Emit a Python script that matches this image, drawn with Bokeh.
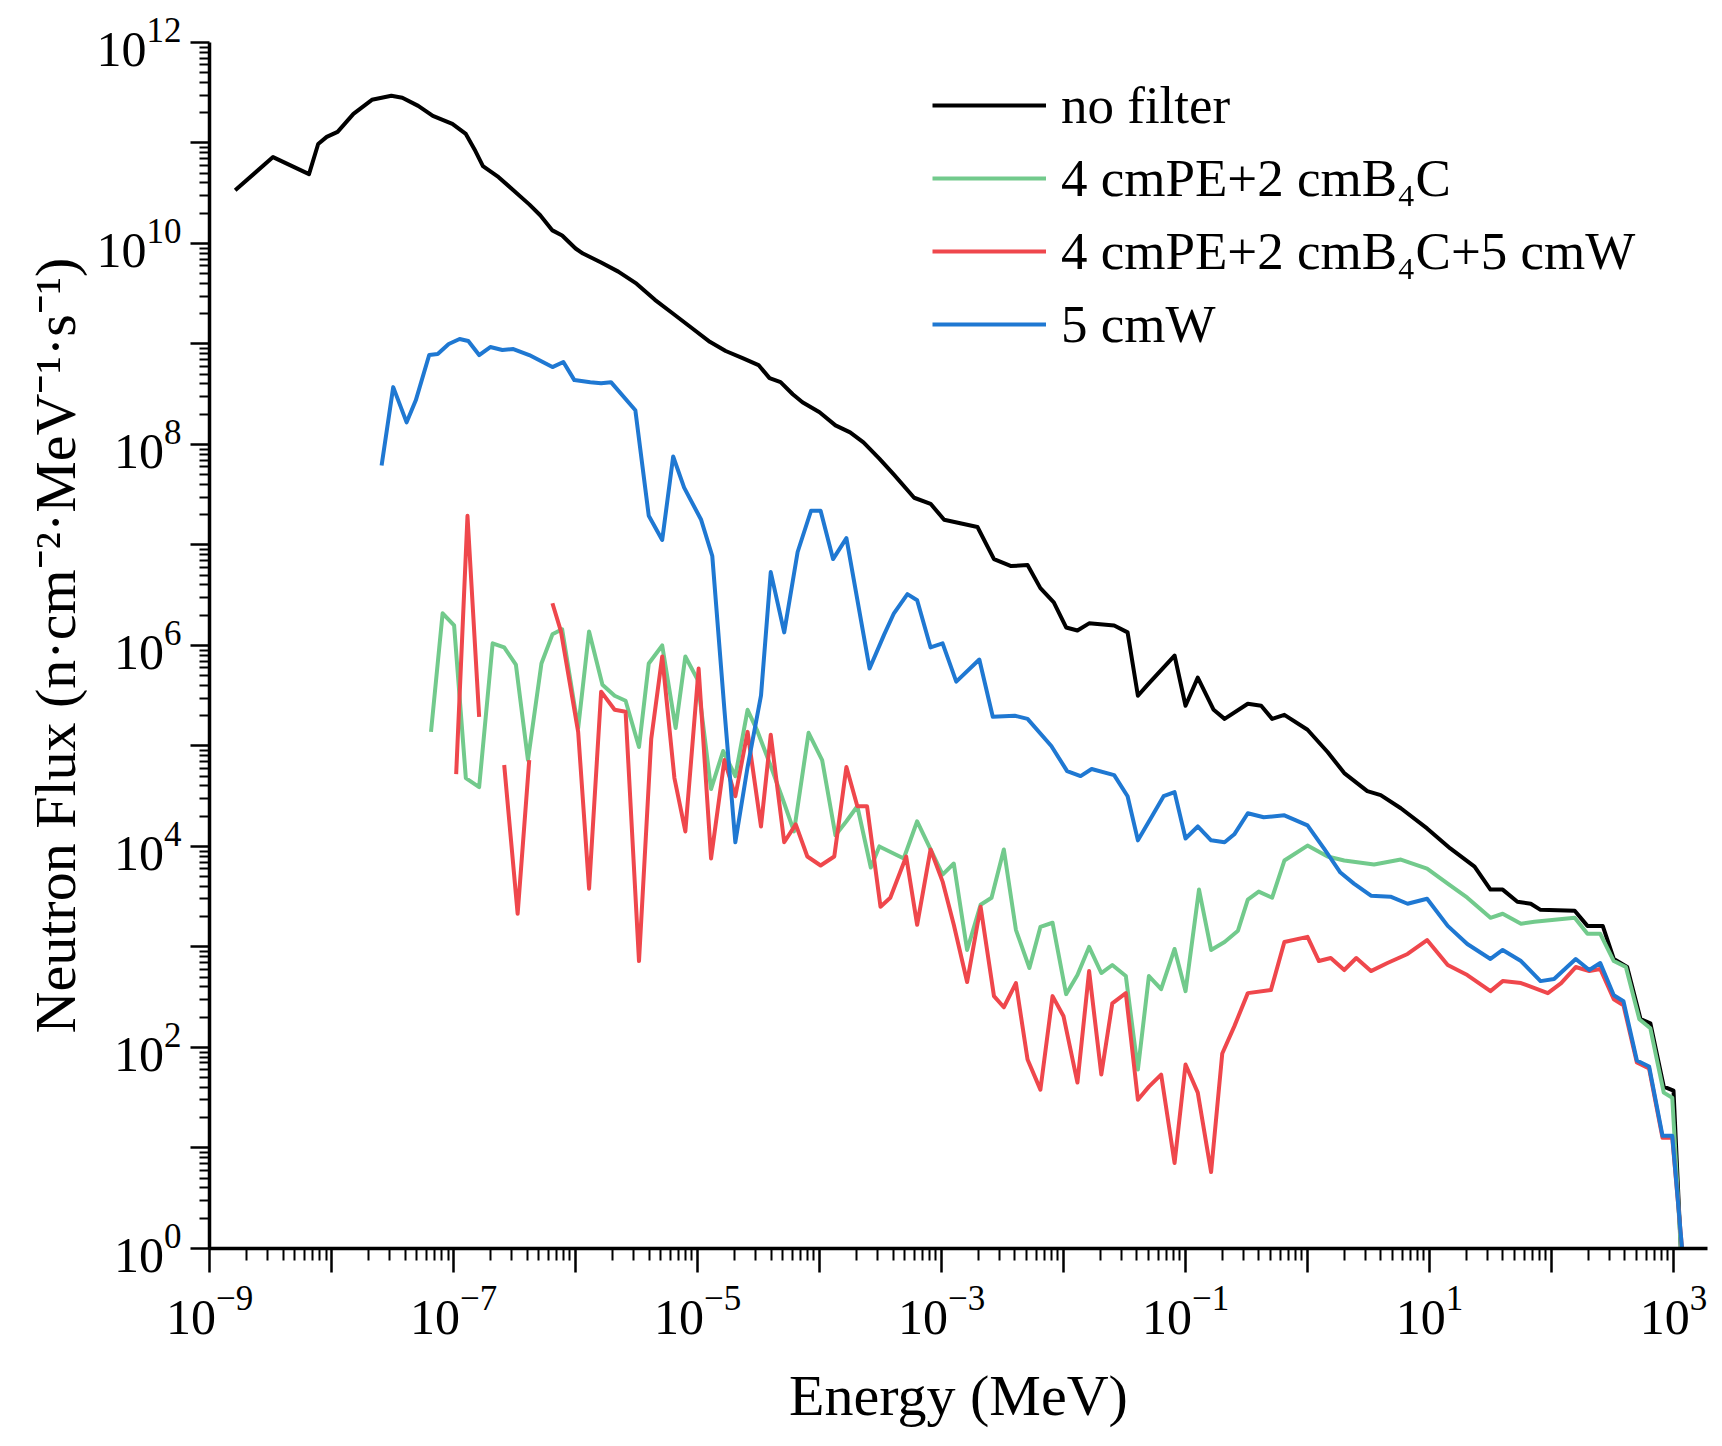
from bokeh.plotting import figure
from bokeh.models import FixedTicker, LogTickFormatter, Range1d, Legend, LegendItem
from bokeh.embed import file_html
from bokeh.resources import INLINE

NAN = float("nan")

# ---- data (Energy in MeV, flux in n cm^-2 MeV^-1 s^-1) ----
energy_nofilter = [1.62e-9, 3.31e-9, 6.53e-9, 7.76e-9, 9.12e-9, 1.12e-8, 1.51e-8, 2.14e-8, 3.09e-8, 3.80e-8,
                   5.13e-8, 6.76e-8, 9.77e-8, 1.26e-7, 1.51e-7, 1.74e-7, 2.34e-7, 3.09e-7, 4.17e-7, 5.13e-7,
                   6.46e-7, 7.76e-7, 1.00e-6, 1.15e-6, 1.62e-6, 2.24e-6, 3.16e-6, 4.47e-6, 6.31e-6, 8.91e-6,
                   1.26e-5, 1.70e-5, 2.34e-5, 3.16e-5, 3.89e-5, 4.79e-5, 6.03e-5, 7.24e-5, 1.00e-4, 1.35e-4,
                   1.78e-4, 2.29e-4, 3.09e-4, 4.07e-4, 5.96e-4, 8.13e-4, 1.05e-3, 1.97e-3, 2.69e-3, 3.72e-3,
                   5.07e-3, 6.46e-3, 8.32e-3, 1.05e-2, 1.30e-2, 1.62e-2, 2.60e-2, 3.35e-2, 4.07e-2, 4.90e-2,
                   8.13e-2, 1.00e-1, 1.26e-1, 1.70e-1, 2.09e-1, 3.24e-1, 4.17e-1, 5.13e-1, 6.46e-1, 1.0,
                   1.46, 2.0, 3.09, 3.98, 5.82, 9.55, 14.8, 23.4, 31.6, 39.8,
                   52.5, 67.6, 81.3, 155, 197, 263, 324, 417, 537, 646,
                   832, 1000, 1148]
flux_nofilter = [3.39e10, 7.24e10, 4.90e10, 9.77e10, 1.15e11, 1.29e11, 1.95e11, 2.69e11, 2.95e11, 2.82e11,
                 2.34e11, 1.86e11, 1.55e11, 1.23e11, 8.32e10, 5.89e10, 4.57e10, 3.39e10, 2.45e10, 1.91e10,
                 1.35e10, 1.20e10, 8.91e9, 7.94e9, 6.46e9, 5.25e9, 3.98e9, 2.75e9, 2.00e9, 1.45e9,
                 1.05e9, 8.51e8, 7.24e8, 6.17e8, 4.57e8, 4.17e8, 3.16e8, 2.63e8, 2.09e8, 1.55e8,
                 1.32e8, 1.05e8, 7.24e7, 5.01e7, 2.95e7, 2.57e7, 1.78e7, 1.51e7, 7.24e6, 6.17e6,
                 6.31e6, 3.72e6, 2.69e6, 1.51e6, 1.41e6, 1.66e6, 1.58e6, 1.35e6, 3.16e5, 4.07e5,
                 7.94e5, 2.51e5, 4.79e5, 2.29e5, 1.86e5, 2.63e5, 2.51e5, 1.86e5, 2.04e5, 1.45e5,
                 8.71e4, 5.37e4, 3.55e4, 3.24e4, 2.40e4, 1.51e4, 9.55e3, 6.31e3, 3.72e3, 3.72e3,
                 2.82e3, 2.69e3, 2.34e3, 2.29e3, 1.62e3, 1.62e3, 759, 631, 191, 174,
                 40.7, 37.2, 1.0]

energy_pe_b4c = [6.53e-8, 8.13e-8, 1.01e-7, 1.26e-7, 1.62e-7, 2.09e-7, 2.60e-7, 3.24e-7, 4.07e-7, 5.25e-7,
                 6.46e-7, 7.76e-7, 1.05e-6, 1.29e-6, 1.66e-6, 2.09e-6, 2.57e-6, 3.31e-6, 3.98e-6, 5.13e-6,
                 6.61e-6, 7.94e-6, 1.00e-5, 1.29e-5, 1.62e-5, 2.04e-5, 2.57e-5, 3.09e-5, 3.98e-5, 5.13e-5,
                 6.17e-5, 8.13e-5, 1.05e-4, 1.35e-4, 1.66e-4, 2.04e-4, 2.63e-4, 3.09e-4, 4.90e-4, 6.31e-4,
                 8.13e-4, 1.02e-3, 1.26e-3, 1.62e-3, 2.09e-3, 2.57e-3, 3.24e-3, 4.07e-3, 5.25e-3, 6.46e-3,
                 8.13e-3, 1.05e-2, 1.30e-2, 1.62e-2, 2.04e-2, 2.51e-2, 3.24e-2, 4.07e-2, 5.01e-2, 6.31e-2,
                 8.13e-2, 1.00e-1, 1.29e-1, 1.62e-1, 2.09e-1, 2.69e-1, 3.24e-1, 3.98e-1, 5.13e-1, 6.46e-1,
                 1.0, 1.46, 2.0, 3.51, 5.82, 9.55, 14.1, 20.4, 31.6, 39.8,
                 56.2, 72.4, 155, 197, 251, 324, 407, 525, 646, 832,
                 977, 1148]
flux_pe_b4c = [1.38e5, 2.09e6, 1.58e6, 4.79e4, 3.89e4, 1.05e6, 9.55e5, 6.46e5, 7.24e4, 6.61e5,
               1.29e6, 1.45e6, 1.51e5, 1.38e6, 4.07e5, 3.16e5, 2.82e5, 9.77e4, 6.61e5, 1.00e6,
               1.51e5, 7.76e5, 4.57e5, 3.72e4, 8.91e4, 5.01e4, 2.29e5, 1.41e5, 6.31e4, 2.69e4,
               1.41e4, 1.35e5, 7.24e4, 1.29e4, 1.78e4, 2.51e4, 6.17e3, 1.00e4, 7.59e3, 1.78e4,
               9.33e3, 5.25e3, 6.76e3, 933, 2.63e3, 3.09e3, 9.33e3, 1.48e3, 617, 1.58e3,
               1.74e3, 339, 525, 1.00e3, 550, 661, 513, 60.3, 513, 380,
               955, 363, 3.72e3, 933, 1.12e3, 1.45e3, 2.95e3, 3.55e3, 3.09e3, 7.24e3,
               1.02e4, 7.94e3, 7.24e3, 6.61e3, 7.41e3, 6.03e3, 4.27e3, 3.09e3, 1.95e3, 2.14e3,
               1.70e3, 1.78e3, 1.95e3, 1.35e3, 1.35e3, 724, 631, 191, 155, 35.5,
               31.6, 1.0]

energy_pe_b4c_w = [1.05e-7, 1.30e-7, 1.62e-7, NAN, 2.60e-7, 3.35e-7, 4.17e-7, NAN, 6.46e-7, 7.59e-7,
                   1.05e-6, 1.29e-6, 1.62e-6, 2.09e-6, 2.57e-6, 3.31e-6, 4.17e-6, 5.13e-6, 6.46e-6, 7.94e-6,
                   1.02e-5, 1.29e-5, 1.66e-5, 2.04e-5, 2.57e-5, 3.31e-5, 3.98e-5, 5.13e-5, 6.38e-5, 7.94e-5,
                   1.02e-4, 1.32e-4, 1.66e-4, 2.04e-4, 2.45e-4, 3.16e-4, 3.80e-4, 5.13e-4, 6.31e-4, 8.13e-4,
                   1.02e-3, 1.26e-3, 1.62e-3, 2.09e-3, 2.69e-3, 3.24e-3, 4.07e-3, 5.07e-3, 6.46e-3, 8.13e-3,
                   1.00e-2, 1.30e-2, 1.62e-2, 2.04e-2, 2.51e-2, 3.24e-2, 4.07e-2, 5.01e-2, 6.31e-2, 8.13e-2,
                   1.00e-1, 1.26e-1, 1.62e-1, 2.00e-1, 2.51e-1, 3.24e-1, 5.01e-1, 6.46e-1, 1.0, 1.24,
                   1.55, 2.0, 2.51, 3.31, 4.52, 6.61, 9.55, 14.1, 20.4, 31.6,
                   39.8, 56.2, 93.3, 120, 158, 204, 251, 324, 389, 501,
                   631, 813, 977, 1175]
flux_pe_b4c_w = [5.25e4, 1.95e7, 1.95e5, NAN, 6.46e4, 2.14e3, 7.24e4, NAN, 2.63e6, 1.38e6,
                 1.38e5, 3.80e3, 3.47e5, 2.29e5, 2.19e5, 724, 1.17e5, 7.76e5, 4.79e4, 1.41e4,
                 5.89e5, 7.59e3, 7.24e4, 3.16e4, 1.38e5, 1.58e4, 1.29e5, 1.10e4, 1.66e4, 7.94e3,
                 6.46e3, 7.94e3, 6.17e4, 2.51e4, 2.51e4, 2.51e3, 3.09e3, 7.94e3, 1.66e3, 9.33e3,
                 4.47e3, 1.66e3, 447, 2.51e3, 324, 251, 437, 75.9, 38.0, 324,
                 204, 44.7, 575, 53.7, 275, 347, 30.2, 40.7, 53.7, 7.08,
                 67.6, 35.5, 5.75, 87.1, 162, 347, 372, 1.12e3, 1.26e3, 724,
                 776, 589, 776, 575, 692, 851, 1.17e3, 661, 525, 363,
                 457, 437, 347, 437, 631, 575, 603, 302, 263, 70.8,
                 61.7, 12.6, 12.6, 1.0]

energy_w = [2.57e-8, 3.20e-8, 4.12e-8, 4.90e-8, 6.31e-8, 7.41e-8, 9.12e-8, 1.12e-7, 1.32e-7, 1.62e-7,
            2.00e-7, 2.51e-7, 3.09e-7, 4.17e-7, 6.46e-7, 7.94e-7, 9.77e-7, 1.32e-6, 1.62e-6, 1.95e-6,
            3.09e-6, 3.98e-6, 5.13e-6, 6.31e-6, 7.76e-6, 1.07e-5, 1.32e-5, 1.66e-5, 2.04e-5, 2.57e-5,
            3.31e-5, 3.98e-5, 5.13e-5, 6.61e-5, 8.51e-5, 1.02e-4, 1.29e-4, 1.66e-4, 2.57e-4, 3.39e-4,
            4.07e-4, 5.25e-4, 6.31e-4, 8.13e-4, 1.02e-3, 1.32e-3, 2.04e-3, 2.63e-3, 3.98e-3, 5.07e-3,
            7.94e-3, 1.07e-2, 1.38e-2, 1.70e-2, 2.60e-2, 3.35e-2, 4.07e-2, 5.25e-2, 6.61e-2, 8.13e-2,
            1.00e-1, 1.26e-1, 1.62e-1, 2.09e-1, 2.51e-1, 3.24e-1, 4.37e-1, 6.46e-1, 1.0, 1.38,
            1.86, 2.40, 3.31, 4.79, 6.61, 9.55, 14.1, 20.4, 31.6, 39.8,
            56.2, 81.3, 105, 158, 204, 251, 324, 389, 501, 631,
            813, 977, 1175]
flux_w = [6.17e7, 3.72e8, 1.66e8, 2.75e8, 7.76e8, 7.94e8, 1.00e9, 1.12e9, 1.07e9, 7.76e8,
          9.33e8, 8.71e8, 8.91e8, 7.76e8, 5.89e8, 6.61e8, 4.37e8, 4.17e8, 4.07e8, 4.17e8,
          2.19e8, 1.95e7, 1.12e7, 7.59e7, 3.72e7, 1.78e7, 7.76e6, 2.29e5, 1.10e4, 6.17e4,
          3.16e5, 5.37e6, 1.35e6, 8.51e6, 2.19e7, 2.19e7, 7.24e6, 1.17e7, 5.89e5, 1.29e6,
          2.09e6, 3.24e6, 2.82e6, 9.55e5, 1.05e6, 4.37e5, 7.24e5, 1.95e5, 2.00e5, 1.86e5,
          1.00e5, 5.62e4, 5.01e4, 5.89e4, 5.13e4, 3.16e4, 1.15e4, 1.95e4, 3.16e4, 3.47e4,
          1.20e4, 1.58e4, 1.15e4, 1.10e4, 1.32e4, 2.14e4, 1.95e4, 2.04e4, 1.62e4, 9.33e3,
          5.50e3, 4.27e3, 3.24e3, 3.16e3, 2.69e3, 3.02e3, 1.62e3, 1.07e3, 759, 933,
          724, 457, 479, 759, 589, 692, 331, 288, 74.1, 64.6,
          13.2, 13.2, 1.0]

series_labels = ["no filter", "4 cmPE+2 cmB\u2084C", "4 cmPE+2 cmB\u2084C+5 cmW", "5 cmW"]
series_colors = ["#000000", "#72ca8c", "#ef474c", "#1f78d2"]

x_major = [float(f"1e{k}") for k in range(-9, 4)]
x_minor = [m * float(f"1e{k}") for k in range(-9, 4) for m in range(2, 10)]
y_major = [float(f"1e{k}") for k in range(0, 13)]
y_minor = [m * float(f"1e{k}") for k in range(0, 12) for m in range(2, 10)]

FONT = "Liberation Serif"

p = figure(width=1710, height=1430, x_axis_type="log", y_axis_type="log",
           x_range=Range1d(0.998e-9, 1.9e3), y_range=Range1d(0.998, 1e12),
           output_backend="svg", toolbar_location=None,
           min_border_left=209, min_border_right=3, min_border_top=42, min_border_bottom=182)
p.background_fill_color = "white"
p.border_fill_color = "white"
p.outline_line_color = None
p.xgrid.visible = False
p.ygrid.visible = False

for ax, major, minor, skip in ((p.xaxis[0], x_major, x_minor, [float(f"1e{k}") for k in range(-8, 4, 2)]),
                               (p.yaxis[0], y_major, y_minor, [float(f"1e{k}") for k in range(1, 12, 2)])):
    ax.ticker = FixedTicker(ticks=major, minor_ticks=minor)
    ax.formatter = LogTickFormatter()
    ax.major_label_overrides = {v: "" for v in skip}
    ax.axis_line_width = 3.5
    ax.axis_line_color = "black"
    ax.major_tick_line_width = 2.5
    ax.minor_tick_line_width = 2
    ax.major_tick_in = 0
    ax.minor_tick_in = 0
    ax.major_label_text_font = FONT
    ax.major_label_text_font_size = "50px"
    ax.major_label_text_color = "black"
    ax.axis_label_text_font = FONT
    ax.axis_label_text_font_size = "58px"
    ax.axis_label_text_font_style = "normal"
    ax.axis_label_text_color = "black"

p.xaxis[0].major_tick_out = 24
p.xaxis[0].minor_tick_out = 12
p.xaxis[0].major_label_standoff = 14
p.xaxis[0].axis_label = "Energy (MeV)"
p.xaxis[0].axis_label_standoff = 26

p.yaxis[0].major_tick_out = 19
p.yaxis[0].minor_tick_out = 10
p.yaxis[0].major_label_standoff = 9
p.yaxis[0].axis_label = "Neutron Flux (n\u00b7cm\u207b\u00b2\u00b7MeV\u207b\u00b9\u00b7s\u207b\u00b9)"
p.yaxis[0].axis_label_standoff = 6

renderers = []
for (xs, ys), color in zip(((energy_nofilter, flux_nofilter), (energy_pe_b4c, flux_pe_b4c),
                            (energy_pe_b4c_w, flux_pe_b4c_w), (energy_w, flux_w)), series_colors):
    r = p.line(xs, ys, line_color=color, line_width=4, line_join="round")
    renderers.append(r)

items = [LegendItem(label=lab, renderers=[r]) for lab, r in zip(series_labels, renderers)]
legend = Legend(items=items, location=(723, 894), orientation="vertical",
                glyph_width=114, glyph_height=50, label_height=50, label_standoff=15,
                spacing=13, padding=0, margin=0,
                label_text_font=FONT, label_text_font_size="53px", label_text_color="black",
                border_line_color=None, background_fill_alpha=0)
p.add_layout(legend)

open("out.html", "w").write(file_html(p, INLINE))
